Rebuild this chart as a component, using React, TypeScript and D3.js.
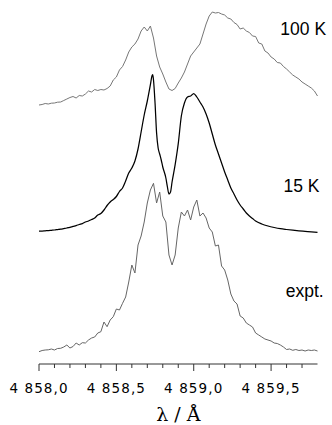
import React from "react";
import * as d3 from "d3";

// wavelength grid of the two measured-style traces (Å)
const gridStart = 4858.0;
const gridStep = 0.02;

// experimental spectrum, intensity (a.u.) every 0.02 Å from 4858.00 to 4859.80
const expt = [
  12.3, 13.5, 14, 14.2, 15, 14, 15.5, 15.7, 17, 19,
  16, 17.5, 21, 19, 21.3, 21, 24, 26, 27, 31,
  32.3, 42, 37.3, 44, 47.3, 55, 54, 60.7, 67, 82,
  99, 91, 119, 128, 142, 161, 174, 180.7, 161, 172,
  148, 142, 109, 99, 109, 136, 152, 148, 154, 144,
  157, 164, 148, 151, 146, 136, 132, 118, 119, 98,
  94, 84, 70, 63, 60, 48, 46, 41, 39, 37,
  31, 29, 27, 25, 24, 23, 21, 20.5, 19, 17,
  14.5, 15, 13.7, 14.5, 13.5, 14, 13, 14, 13.5, 14,
  13,
];

// 100 K simulation, same grid
const sim100K = [
  19, 19.5, 20.5, 20, 20.8, 21, 21.8, 22, 23.5, 25,
  26.5, 27.5, 26, 28.5, 28, 30, 33, 32, 34.5, 33.5,
  34.5, 34, 35.5, 38, 44, 47, 54, 57.5, 64, 72,
  77, 80, 85, 93, 97, 93, 98, 86, 68, 57,
  50, 42, 35, 33.5, 35.5, 41, 46, 52, 60, 68,
  72, 76, 80, 90, 100, 108, 112, 111, 111.5, 110,
  109, 106, 105, 101.5, 99.5, 95, 96, 93, 91.5, 88,
  87.5, 81, 80, 73, 71, 67, 65, 61.5, 61, 57.5,
  55, 52, 49, 47, 45, 42, 40, 38, 36, 33,
  28,
];

// 15 K simulation, [λ, intensity], denser around the sharp line
const sim15K: [number, number][] = [
  [4858.0, 13], [4858.02, 13], [4858.04, 13.2], [4858.06, 13.4], [4858.08, 13.7],
  [4858.1, 14], [4858.12, 14.4], [4858.14, 14.8], [4858.16, 15.4], [4858.18, 16],
  [4858.2, 16.7], [4858.22, 17.6], [4858.24, 18.4], [4858.26, 19.5], [4858.28, 20.4],
  [4858.3, 22], [4858.32, 23], [4858.34, 24.5], [4858.36, 26], [4858.38, 29],
  [4858.4, 30.5], [4858.42, 34], [4858.44, 38.5], [4858.46, 42], [4858.48, 44.5],
  [4858.5, 47.5], [4858.52, 52.5], [4858.54, 56], [4858.56, 63], [4858.58, 71],
  [4858.6, 76], [4858.62, 83], [4858.64, 95], [4858.66, 112], [4858.68, 129],
  [4858.7, 143], [4858.72, 159.3], [4858.73, 168], [4858.735, 169.5], [4858.74, 164],
  [4858.75, 141], [4858.76, 111], [4858.77, 96], [4858.78, 90], [4858.79, 84],
  [4858.8, 77], [4858.82, 66], [4858.83, 57], [4858.84, 50], [4858.85, 52],
  [4858.86, 62], [4858.88, 79.4], [4858.9, 100.3], [4858.92, 128], [4858.94, 141],
  [4858.96, 147], [4858.98, 148], [4859.0, 150.5], [4859.02, 147], [4859.04, 142],
  [4859.06, 137], [4859.08, 130], [4859.1, 121], [4859.12, 110], [4859.14, 99],
  [4859.16, 90], [4859.18, 81], [4859.2, 72], [4859.22, 64], [4859.24, 56],
  [4859.26, 50], [4859.28, 44], [4859.3, 39], [4859.32, 35], [4859.34, 31],
  [4859.36, 28], [4859.38, 25.5], [4859.4, 23], [4859.44, 20], [4859.48, 18],
  [4859.52, 16.5], [4859.56, 15.3], [4859.6, 14.5], [4859.64, 13.8], [4859.68, 13.2],
  [4859.72, 12.7], [4859.76, 12.2], [4859.8, 11.7],
];

// vertical offsets of the stacked traces
const offsetExpt = 0;
const offset15K = 120;
const offset100K = 240;

const majorTicks = [4858.0, 4858.5, 4859.0, 4859.5];
const minorTicks = [
  4858.1, 4858.2, 4858.3, 4858.4, 4858.6, 4858.7, 4858.8, 4858.9,
  4859.1, 4859.2, 4859.3, 4859.4, 4859.6, 4859.7,
];

// trace labels: text, λ where it starts, height above axis
const labels: [string, number, number][] = [
  ["100 K", 4859.56, 329],
  ["15 K", 4859.58, 172],
  ["expt.", 4859.595, 67],
];

const locale = d3.formatLocale({
  decimal: ",",
  thousands: " ",
  grouping: [3],
  currency: ["", ""],
});
const fmt = locale.format(",.1f");

export default function App() {
  const width = 332;
  const height = 425;

  const x = d3.scaleLinear().domain([4858.0, 4859.8]).range([39, 317.5]);
  const y = d3.scaleLinear().domain([0, 360]).range([364, 4]);

  const onGrid = (vals: number[], off: number): [number, number][] =>
    vals.map((v, i) => [gridStart + i * gridStep, v + off]);

  const line = d3
    .line<[number, number]>()
    .x((d) => x(d[0]))
    .y((d) => y(d[1]));
  const smooth = d3
    .line<[number, number]>()
    .x((d) => x(d[0]))
    .y((d) => y(d[1]))
    .curve(d3.curveMonotoneX);

  const axisY = y(0);

  return (
    <svg
      width={width}
      height={height}
      style={{ position: "absolute", left: 0, top: 0, background: "#fff" }}
    >
      <path d={line(onGrid(sim100K, offset100K)) || ""} fill="none" stroke="#777" strokeWidth={1} />
      <path
        d={smooth(sim15K.map((d) => [d[0], d[1] + offset15K] as [number, number])) || ""}
        fill="none"
        stroke="#000"
        strokeWidth={1.25}
      />
      <path d={line(onGrid(expt, offsetExpt)) || ""} fill="none" stroke="#666" strokeWidth={1} />

      {labels.map(([t, l, h]) => (
        <text
          key={t}
          x={x(l)}
          y={y(h)}
          fontFamily="'Liberation Sans', Arial, sans-serif"
          fontSize={17.5}
          fill="#000"
        >
          {t}
        </text>
      ))}

      {/* axis */}
      <line x1={x.range()[0]} x2={x.range()[1]} y1={axisY} y2={axisY} stroke="#333" strokeWidth={1} />
      {minorTicks.map((t) => (
        <line key={t} x1={x(t)} x2={x(t)} y1={axisY} y2={axisY + 4} stroke="#333" strokeWidth={1} />
      ))}
      {majorTicks.map((t) => (
        <g key={t}>
          <line x1={x(t)} x2={x(t)} y1={axisY} y2={axisY + 7} stroke="#333" strokeWidth={1} />
          <text
            x={x(t)}
            y={393}
            textAnchor="middle"
            fontFamily="'DejaVu Sans', sans-serif"
            fontSize={13.5}
            letterSpacing={1.1}
            fill="#000"
          >
            {fmt(t)}
          </text>
        </g>
      ))}
      <text
        x={(x.range()[0] + x.range()[1]) / 2}
        y={421}
        textAnchor="middle"
        fontFamily="'DejaVu Serif', serif"
        fontSize={19}
        fill="#000"
      >
        λ / Å
      </text>
    </svg>
  );
}
